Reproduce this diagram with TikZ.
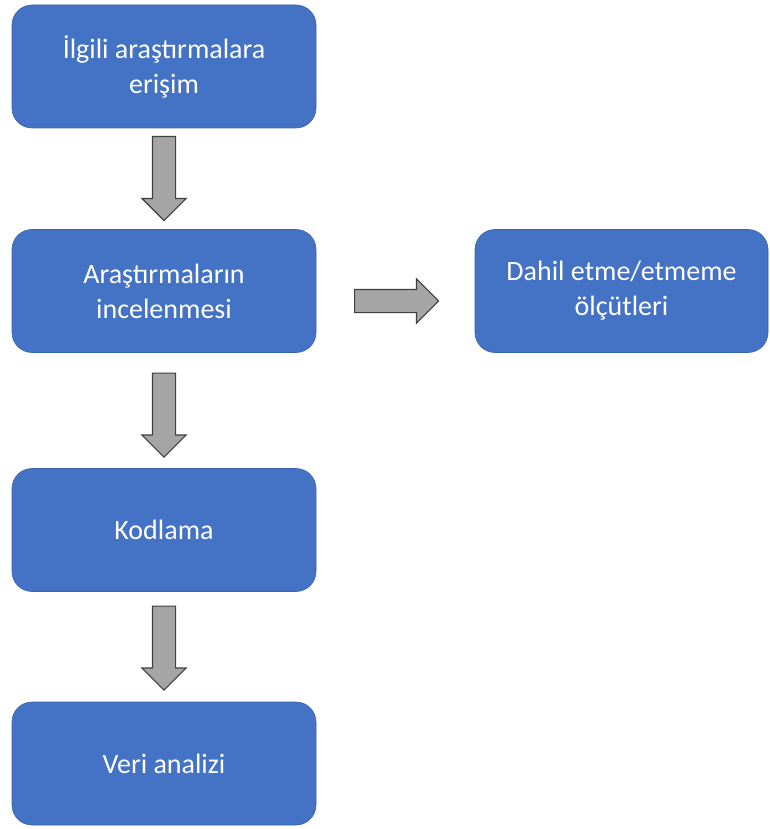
\documentclass[tikz,border=0pt]{standalone}
\usepackage{fontspec}
\setmainfont{Carlito}
\usetikzlibrary{shapes.arrows}
\definecolor{boxblue}{HTML}{4472C4}
\definecolor{boxedge}{HTML}{3A63AE}
\definecolor{arrgray}{HTML}{A5A5A5}
\definecolor{arredge}{HTML}{3F3F3F}
\begin{document}
\begin{tikzpicture}[
    x=1pt,y=-1pt,
    blk/.style={rectangle,draw=boxedge,fill=boxblue,rounded corners=20pt,line width=0.6pt,minimum width=304pt,minimum height=123pt,text=white,font=\fontsize{28}{35}\selectfont,align=center},
    blkarr/.style={single arrow,draw=arredge,fill=arrgray,line width=1.2pt,inner sep=11pt,minimum height=84pt,single arrow head extend=10.5pt,single arrow head indent=0pt,anchor=tail}
]
\useasboundingbox (0,0) rectangle (769,829);
\node[blk] (access) at (164,66.5) {İlgili araştırmalara\\erişim};
\node[blk] (review) at (164,291) {Araştırmaların\\incelenmesi};
\node[blk] (coding) at (164,530) {Kodlama};
\node[blk] (analysis) at (164,763.5) {Veri analizi};
\node[blk,minimum width=293pt] (criteria) at (621.5,291) {Dahil etme/etmeme\\ölçütleri};

\node[blkarr,shape border rotate=270] (a1) at (164,136) {};
\node[blkarr,shape border rotate=270] (a2) at (164,372.5) {};
\node[blkarr,shape border rotate=270] (a3) at (164,605.5) {};
\node[blkarr] (a4) at (354,301) {};
\end{tikzpicture}
\end{document}
